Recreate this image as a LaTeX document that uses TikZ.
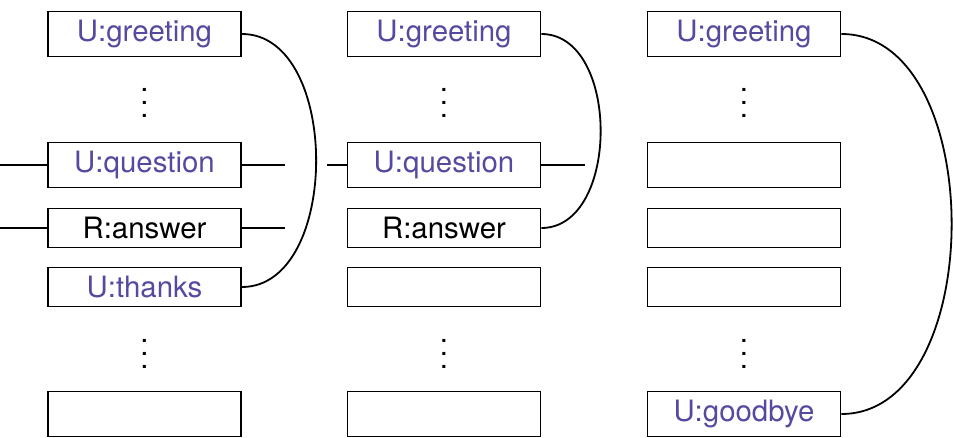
\documentclass[tikz,border=0pt]{standalone}
\usepackage{fontspec}
\setmainfont{TeX Gyre Heros}
\usepackage{xcolor}
\usetikzlibrary{positioning}
\definecolor{userPurple}{RGB}{88, 72, 160}
\newcommand{\rowdots}{\vbox{\baselineskip6.3pt \lineskiplimit0pt \hbox{.}\hbox{.}\hbox{.}}}
\tikzset{
  turn/.style={draw, line width=0.9pt, minimum width=96.5pt, inner sep=0pt,
    font=\fontsize{14.7}{17}\selectfont},
  user/.style={turn, text=userPurple},
  tallrow/.style={minimum height=22.5pt},
  shortrow/.style={minimum height=19.5pt},
  gap/.style={inner sep=0pt, font=\fontsize{14.7}{17}\selectfont},
  link/.style={line width=0.9pt},
}

\begin{document}
\begin{tikzpicture}[x=0.5pt, y=-0.5pt]

  \useasboundingbox (0, 0) rectangle (953, 438);

  % first column
  \node[user, tallrow]   (g1) at (144.5, 34)  {U:greeting};
  \node[gap]             (d1a) at (144.5, 103) {\rowdots};
  \node[user, tallrow]   (q1) at (144.5, 165) {U:question};
  \node[turn, shortrow]  (a1) at (144.5, 228) {R:answer};
  \node[user, shortrow]  (t1) at (144.5, 287) {U:thanks};
  \node[gap]             (d1b) at (144.5, 354) {\rowdots};
  \node[turn, tallrow]   (e1) at (144.5, 414) {};

  % second column
  \node[user, tallrow]   (g2) at (444, 34)  {U:greeting};
  \node[gap]             (d2a) at (444, 103) {\rowdots};
  \node[user, tallrow]   (q2) at (444, 165) {U:question};
  \node[turn, shortrow]  (a2) at (444, 228) {R:answer};
  \node[turn, shortrow]  (t2) at (444, 287) {};
  \node[gap]             (d2b) at (444, 354) {\rowdots};
  \node[turn, tallrow]   (e2) at (444, 414) {};

  % third column
  \node[user, tallrow]   (g3) at (744, 34)  {U:greeting};
  \node[gap]             (d3a) at (744, 103) {\rowdots};
  \node[turn, tallrow]   (q3) at (744, 165) {};
  \node[turn, shortrow]  (a3) at (744, 228) {};
  \node[turn, shortrow]  (t3) at (744, 287) {};
  \node[gap]             (d3b) at (744, 354) {\rowdots};
  \node[user, tallrow]   (bye3) at (744, 414) {U:goodbye};

  % loose ends of the side lines
  \coordinate (q1l) at (0, 165);
  \coordinate (q1r) at (285, 165);
  \coordinate (a1l) at (0, 228);
  \coordinate (a1r) at (285, 228);
  \coordinate (q2l) at (327, 165);
  \coordinate (q2r) at (585, 165);

  \draw[link] (q1l) -- (q1.west);
  \draw[link] (q1.east) -- (q1r);
  \draw[link] (a1l) -- (a1.west);
  \draw[link] (a1.east) -- (a1r);
  \draw[link] (q2l) -- (q2.west);
  \draw[link] (q2.east) -- (q2r);

  % pairings
  \draw[link] (g1.east) .. controls +(99, 0) and +(99, 0) .. (t1.east);
  \draw[link] (g2.east) .. controls +(79, 0) and +(79, 0) .. (a2.east);
  \draw[link] (g3.east) .. controls +(147, 0) and +(147, 0) .. (bye3.east);

\end{tikzpicture}
\end{document}
